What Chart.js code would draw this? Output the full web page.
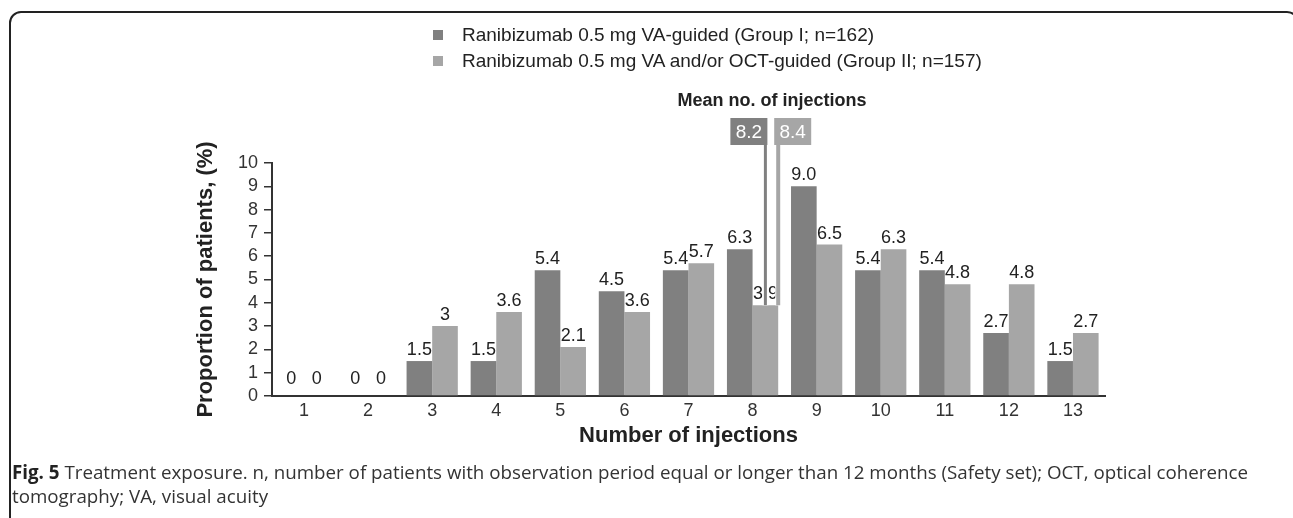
<!DOCTYPE html>
<html>
<head>
<meta charset="utf-8">
<script src="https://cdn.jsdelivr.net/npm/chart.js@4/dist/chart.umd.min.js"></script>
<style>
  html, body { margin: 0; padding: 0; background: #fff; }
  body { width: 1293px; height: 518px; position: relative; overflow: hidden; }
  #frame { position: absolute; left: 9px; top: 11px; width: 1290px; height: 540px; border: 2px solid #222; border-radius: 12px; box-sizing: border-box; }
  canvas { position: absolute; left: 0; top: 0; }
  .leg { position: absolute; left: 433px; font: 19px "Liberation Sans", Arial, sans-serif; color: #222; white-space: nowrap; line-height: 22px; }
  .leg i { display: inline-block; width: 10px; height: 10px; margin-right: 19px; vertical-align: 1px; }
  #mean { position: absolute; left: 622px; width: 300px; top: 89px; text-align: center; font: bold 18px "Liberation Sans", Arial, sans-serif; color: #222; line-height: 22px; }
  #cap { position: absolute; left: 12px; top: 460px; font: 18.75px "Open Sans", sans-serif; color: #333; line-height: 24px; white-space: nowrap; }
  #cap b { color: #222; }
</style>
</head>
<body>
<div id="frame"></div>
<canvas id="c" width="1293" height="518"></canvas>
<div class="leg" style="top:24px"><i style="background:#808080"></i>Ranibizumab 0.5 mg VA-guided (Group I; n=162)</div>
<div class="leg" style="top:50px"><i style="background:#a6a6a6"></i>Ranibizumab 0.5 mg VA and/or OCT-guided (Group II; n=157)</div>
<div id="mean">Mean no. of injections</div>
<div id="cap"><b>Fig. 5</b> Treatment exposure. n, number of patients with observation period equal or longer than 12 months (Safety set); OCT, optical coherence<br>tomography; VA, visual acuity</div>
<script>
const categories = ["1","2","3","4","5","6","7","8","9","10","11","12","13"];
const groupI  = [0, 0, 1.5, 1.5, 5.4, 4.5, 5.4, 6.3, 9.0, 5.4, 5.4, 2.7, 1.5];
const groupII = [0, 0, 3, 3.6, 2.1, 3.6, 5.7, 3.9, 6.5, 6.3, 4.8, 4.8, 2.7];
const groupILabels  = ["0","0","1.5","1.5","5.4","4.5","5.4","6.3","9.0","5.4","5.4","2.7","1.5"];
const groupIILabels = ["0","0","3","3.6","2.1","3.6","5.7","3.9","6.5","6.3","4.8","4.8","2.7"];
const meanInjections = [8.2, 8.4];
const meanLabels = ["8.2", "8.4"];
const yTicks = [0,1,2,3,4,5,6,7,8,9,10];

const DARK = '#808080', LIGHT = '#a6a6a6';
const FONT = '"Liberation Sans", Arial, sans-serif';

const valueLabels = {
  id: 'valueLabels',
  afterDatasetsDraw(chart) {
    const ctx = chart.ctx;
    const texts = [groupILabels, groupIILabels];
    ctx.save();
    ctx.font = '18px ' + FONT;
    ctx.fillStyle = '#222';
    ctx.textAlign = 'center';
    ctx.textBaseline = 'alphabetic';
    chart.data.datasets.forEach((ds, di) => {
      const meta = chart.getDatasetMeta(di);
      meta.data.forEach((bar, i) => {
        const off = ds.data[i] === 0 ? 12 : 6;
        ctx.fillText(texts[di][i], bar.x, bar.y - off);
      });
    });
    ctx.restore();
  }
};

const meanMarks = {
  id: 'meanMarks',
  afterDatasetsDraw(chart) {
    const ctx = chart.ctx;
    const xs = chart.scales.x, ys = chart.scales.y;
    const colors = [DARK, LIGHT];
    const boxTop = chart.chartArea.top - 45, boxH = 27, boxW = 37;
    ctx.save();
    meanInjections.forEach((m, k) => {
      const px = xs.getPixelForValue(m - 1);
      const endY = ys.getPixelForValue(groupII[Math.floor(m) - 1]);
      ctx.strokeStyle = '#fff';
      ctx.lineWidth = 6;
      ctx.beginPath(); ctx.moveTo(px, boxTop + boxH); ctx.lineTo(px, endY); ctx.stroke();
      ctx.strokeStyle = colors[k];
      ctx.lineWidth = k === 0 ? 3 : 4;
      ctx.beginPath(); ctx.moveTo(px, boxTop + boxH - 1); ctx.lineTo(px, endY); ctx.stroke();
      const bx = k === 0 ? px + 2 - boxW : px - 4;
      ctx.fillStyle = colors[k];
      ctx.fillRect(bx, boxTop, boxW, boxH);
      ctx.fillStyle = '#fff';
      ctx.font = '19px ' + FONT;
      ctx.textAlign = 'center';
      ctx.textBaseline = 'middle';
      ctx.fillText(meanLabels[k], bx + boxW / 2, boxTop + boxH / 2 + 1);
    });
    ctx.restore();
  }
};

new Chart(document.getElementById('c'), {
  type: 'bar',
  data: {
    labels: categories,
    datasets: [
      { label: 'Ranibizumab 0.5 mg VA-guided (Group I; n=162)', data: groupI, backgroundColor: DARK, categoryPercentage: 0.8, barPercentage: 1.0 },
      { label: 'Ranibizumab 0.5 mg VA and/or OCT-guided (Group II; n=157)', data: groupII, backgroundColor: LIGHT, categoryPercentage: 0.8, barPercentage: 1.0 }
    ]
  },
  options: {
    responsive: false,
    animation: false,
    events: [],
    layout: { padding: { left: 189, right: 188, top: 163, bottom: 68 } },
    plugins: { legend: { display: false }, tooltip: { enabled: false } },
    scales: {
      x: {
        afterFit(s) { s.height = 54; },
        grid: { display: true, drawOnChartArea: false, drawTicks: false },
        border: { display: true, color: '#333', width: 2 },
        ticks: { color: '#333', font: { size: 18, family: FONT }, padding: 4 },
        title: { display: true, text: 'Number of injections', color: '#222', font: { size: 22, weight: 'bold', family: FONT }, padding: { top: 0, bottom: 1 } }
      },
      y: {
        min: 0, max: 10,
        afterFit(s) { s.width = 83; },
        afterBuildTicks(s) { s.ticks = yTicks.map(v => ({ value: v })); },
        grid: { drawOnChartArea: false, drawTicks: true, tickLength: 8, color: '#333', lineWidth: 1.5 },
        border: { display: true, color: '#333', width: 2 },
        ticks: { autoSkip: false, color: '#333', font: { size: 18, family: FONT }, padding: 6 },
        title: { display: true, text: 'Proportion of patients, (%)', color: '#222', font: { size: 22, weight: 'bold', family: FONT }, padding: { top: 4, bottom: 4 } }
      }
    }
  },
  plugins: [valueLabels, meanMarks]
});
</script>
</body>
</html>
